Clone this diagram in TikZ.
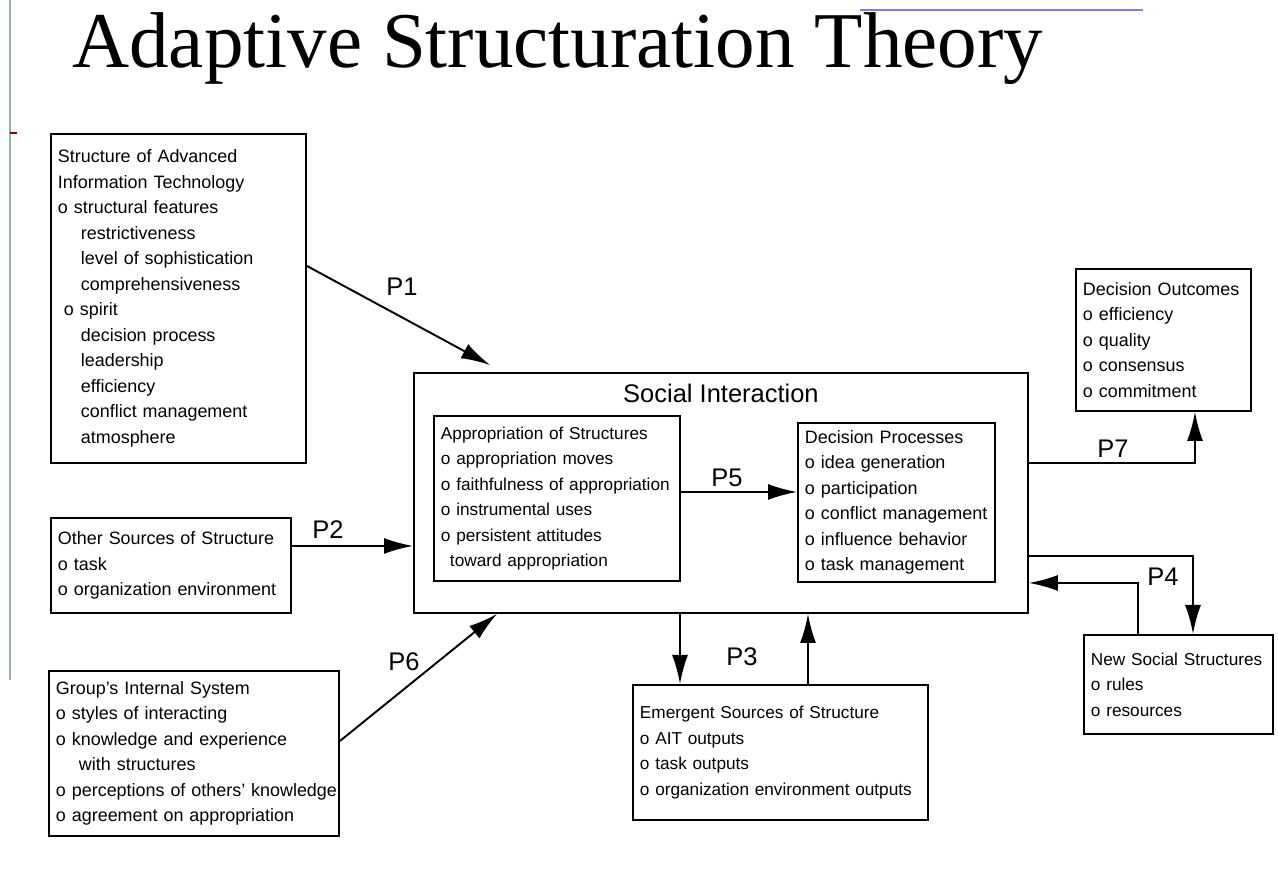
\documentclass[tikz,border=0pt]{standalone}
\usepackage{fontspec}
\setmainfont{Liberation Serif}
\setsansfont{Liberation Sans}
\usetikzlibrary{arrows.meta}

\begin{document}
\begin{tikzpicture}[
    box/.style 2 args={draw, line width=1.1pt, anchor=north west, align=left,
      text width=#1cm, minimum height=#2cm, inner xsep=0.14cm, inner ysep=0pt,
      font=\sffamily\fontsize{10.2}{14.5}\selectfont},
    fine/.style={font=\sffamily\fontsize{9.8}{14.5}\selectfont},
    arr/.style={line width=1.1pt, -{Latex[length=0.58cm,width=0.32cm]}},
    plbl/.style={inner sep=0pt, font=\sffamily\fontsize{14.5}{17}\selectfont}
  ]
  \useasboundingbox (0,0) rectangle (25.56,-17.68);
  \def\ind{\hspace*{0.46cm}}

  % Screenshot edges
  \draw[line width=0.6pt, color=teal!30!gray!60] (0.2,0) -- (0.2,-13.6);
  \draw[line width=0.8pt, color=red!50!black] (0.2,-2.66) -- (0.34,-2.66);
  \draw[line width=1.6pt, color=blue!40!gray!70] (17.2,-0.2) -- (22.86,-0.2);

  % Title
  \node[anchor=base west, inner sep=0pt, font=\fontsize{45}{50}\selectfont] (title)
    at (1.44,-1.36) {Adaptive Structuration Theory};

  % Sources of structure on the left
  \node[box={4.82}{6.58}] (ait) at (1.0,-2.66) {Structure of Advanced\\
    Information Technology\\
    o structural features\\
    \ind restrictiveness\\
    \ind level of sophistication\\
    \ind comprehensiveness\\
    \hspace*{0.12cm}o spirit\\
    \ind decision process\\
    \ind leadership\\
    \ind efficiency\\
    \ind conflict management\\
    \ind atmosphere};
  \node[box={4.52}{1.9}] (other) at (1.0,-10.34) {Other Sources of Structure\\
    o task\\
    o organization environment};
  \node[box={5.52}{3.3}] (group) at (0.96,-13.4) {Group's Internal System\\
    o styles of interacting\\
    o knowledge and experience\\
    \ind with structures\\
    \mbox{o perceptions of others' knowledge}\\
    o agreement on appropriation};

  % Social interaction with its two inner boxes
  \node[box={12.0}{4.8}] (social) at (8.26,-7.44) {};
  \node[anchor=north, inner sep=0pt, font=\sffamily\fontsize{14.5}{17}\selectfont] (sititle)
    at ([yshift=-0.24cm]social.north) {Social Interaction};
  \node[box={4.64}{3.3}, fine] (approp) at (8.66,-8.3) {Appropriation of Structures\\
    o appropriation moves\\
    o faithfulness of appropriation\\
    o instrumental uses\\
    o persistent attitudes\\
    \hspace*{0.18cm}toward appropriation};
  \node[box={3.66}{3.18}] (decproc) at (15.94,-8.44) {Decision Processes\\
    o idea generation\\
    o participation\\
    o conflict management\\
    o influence behavior\\
    o task management};

  % Outcomes and emergent structures
  \node[box={3.22}{2.84}] (outcome) at (21.5,-5.36) {Decision Outcomes\\
    o efficiency\\
    o quality\\
    o consensus\\
    o commitment};
  \node[box={5.62}{2.7}, fine] (emergent) at (12.64,-13.68) {Emergent Sources of Structure\\
    o AIT outputs\\
    o task outputs\\
    o organization environment outputs};
  \node[box={3.5}{1.98}, fine] (newsoc) at (21.66,-12.68) {New Social Structures\\
    o rules\\
    o resources};

  % Propositions
  \draw[arr] ([yshift=0.65cm]ait.east) -- ([xshift=1.54cm,yshift=0.14cm]social.north west);
  \coordinate (p2s) at ([yshift=0.39cm]other.east);
  \draw[arr] (p2s) -- (p2s -| social.west);
  \draw[arr] ([yshift=0.25cm]group.east) -- ([xshift=1.68cm]social.south west);
  \coordinate (p5s) at ([yshift=0.13cm]approp.east);
  \draw[arr] (p5s) -- (p5s -| decproc.west);
  \coordinate (p3d) at ([xshift=0.96cm]emergent.north west);
  \coordinate (p3u) at ([xshift=3.52cm]emergent.north west);
  \draw[arr] (p3d |- social.south) -- (p3d);
  \draw[arr] (p3u) -- (p3u |- social.south);
  \coordinate (p7e) at ([xshift=2.4cm]outcome.south west);
  \draw[arr] ([yshift=0.6cm]social.east) -| (p7e);
  \coordinate (p4d) at ([xshift=2.2cm]newsoc.north west);
  \coordinate (p4u) at ([xshift=1.1cm]newsoc.north west);
  \draw[arr] ([yshift=-1.26cm]social.east) -| (p4d);
  \draw[arr] (p4u) |- ([yshift=-1.8cm]social.east);

  \node[plbl] (p1lbl) at (8.04,-5.74) {P1};
  \node[plbl] (p2lbl) at (6.56,-10.6) {P2};
  \node[plbl] (p6lbl) at (8.08,-13.24) {P6};
  \node[plbl] (p5lbl) at (14.54,-9.56) {P5};
  \node[plbl] (p3lbl) at (14.84,-13.14) {P3};
  \node[plbl] (p7lbl) at (22.26,-8.98) {P7};
  \node[plbl] (p4lbl) at (23.26,-11.54) {P4};
\end{tikzpicture}
\end{document}
